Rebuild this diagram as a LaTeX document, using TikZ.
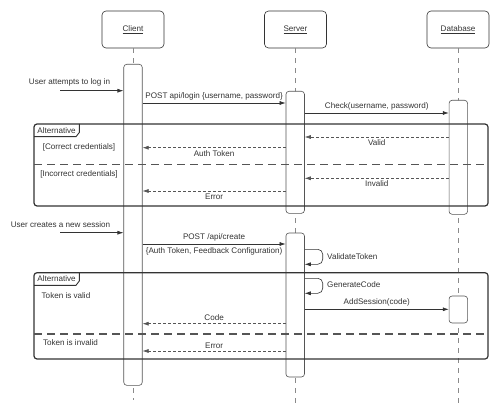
\documentclass[tikz,border=0pt]{standalone}
\usepackage{fontspec}
\setmainfont{Liberation Sans}
\usetikzlibrary{arrows.meta}

\definecolor{inkgray}{HTML}{333333}
\definecolor{linegray}{HTML}{555555}
\definecolor{lifegray}{HTML}{8A8A8A}

\tikzset{
  participant/.style={draw=inkgray, line width=0.6pt, rounded corners=4pt, fill=white,
                      minimum width=62pt, minimum height=37pt, inner sep=0pt},
  actbar/.style={draw=linegray, line width=0.6pt, fill=white, rounded corners=3pt,
                 minimum width=18.5pt, anchor=north, inner sep=0pt},
  lifeline/.style={draw=lifegray, line width=0.6pt, dash pattern=on 5pt off 5pt},
  msg/.style={draw=inkgray, line width=0.6pt, -{Latex[length=6pt,width=4pt]}},
  reply/.style={draw=linegray, line width=0.6pt, dash pattern=on 3pt off 2pt,
                -{Latex[length=6pt,width=4pt]}},
  altframe/.style={draw=inkgray, line width=1.2pt, rounded corners=3pt},
  alttag/.style={draw=inkgray, line width=0.9pt},
  altsplit/.style={draw=linegray, line width=1.2pt, dash pattern=on 8pt off 5pt},
  lbl/.style={font=\fontsize{8.1}{9}\selectfont, text=inkgray, inner sep=1pt},
}

\begin{document}
\begin{tikzpicture}[x=1pt,y=-1pt]
\useasboundingbox (0,0) rectangle (498,417);

% First the participants and their lifelines
\node[participant] (client) at (133,29.5) {};
\node[participant] (server) at (295.5,29.5) {};
\node[participant] (database) at (458,29.5) {};
\node[lbl] (clientname) at (client) {\underline{Client}};
\node[lbl] (servername) at (server) {\underline{Server}};
\node[lbl] (databasename) at (database) {\underline{Database}};

\coordinate (clientend) at (133,400);
\coordinate (serverend) at (295.2,403);
\coordinate (databaseend) at (458.3,403);
\draw[lifeline] (client.south) -- (clientend);
\draw[lifeline] (server.south -| serverend) -- (serverend);
\draw[lifeline] (database.south -| databaseend) -- (databaseend);

% Now the activation bars
\node[actbar, minimum height=321pt] (cact) at (133,64) {};
\node[actbar, minimum height=122pt] (sactA) at (295.2,91) {};
\node[actbar, minimum height=144pt] (sactB) at (295.2,232.7) {};
\node[actbar, minimum height=114pt] (dactA) at (458.3,100) {};
\node[actbar, minimum height=27pt] (dactB) at (458.3,295.7) {};

% Now the login exchange
\coordinate (loginstart) at (60,90.7);
\node[lbl] (loginnote) at (69.5,82) {User attempts to log in};
\draw[msg] (loginstart) -- (cact.west |- loginstart);
\draw[msg] (cact.east |- 0,103) -- node[lbl, above=1.5pt] {POST api/login \{username, password\}} (sactA.west |- 0,103);
\draw[msg] (sactA.east |- 0,113) -- node[lbl, above=1.5pt] {Check(username, password)} (dactA.west |- 0,113);

% first alternative frame
\draw[altframe] (34,124) rectangle (488,206);
\draw[alttag] (34,136.7) -- (76,136.7) -- (79.3,132.5) -- (79.3,124);
\node[lbl] (altA) at (56.5,130.2) {Alternative};
\draw[altsplit] (34,164.7) -- (488,164.7);
\node[lbl] (goodcred) at (79,147) {[Correct credentials]};
\node[lbl] (badcred) at (79,174) {[Incorrect credentials]};

\draw[reply] (dactA.west |- 0,137) -- node[lbl, below=1.5pt] {Valid} (sactA.east |- 0,137);
\draw[reply] (sactA.west |- 0,147.7) -- node[lbl, below=1.5pt] {Auth Token} (cact.east |- 0,147.7);
\draw[reply] (dactA.west |- 0,178.3) -- node[lbl, below=1.5pt] {Invalid} (sactA.east |- 0,178.3);
\draw[reply] (sactA.west |- 0,191) -- node[lbl, below=1.5pt] {Error} (cact.east |- 0,191);

% Now the session exchange
\coordinate (sessionstart) at (60,232.7);
\node[lbl] (sessionnote) at (60.5,225) {User creates a new session};
\draw[msg] (sessionstart) -- (cact.west |- sessionstart);
\draw[msg] (cact.east |- 0,244) -- node[lbl, above=1.5pt] {POST /api/create}
  node[lbl, below=2pt] {\{Auth Token, Feedback Configuration)} (sactB.west |- 0,244);
\draw[msg, rounded corners=5pt] (sactB.east |- 0,249.3) -- ++(18,0) |- (sactB.east |- 0,264.3);
\node[lbl, anchor=west] (validate) at (326,256.5) {ValidateToken};

% second alternative frame
\draw[altframe] (34,272.7) rectangle (488,359);
\draw[alttag] (34,285.3) -- (76,285.3) -- (79.3,281) -- (79.3,272.7);
\node[lbl] (altB) at (56.5,278.8) {Alternative};
\draw[altsplit] (34,334) -- (488,334);
\node[lbl] (tokenok) at (66,296) {Token is valid};
\node[lbl] (tokenbad) at (70.5,343) {Token is invalid};

\draw[msg, rounded corners=5pt] (sactB.east |- 0,278.3) -- ++(18,0) |- (sactB.east |- 0,293.3);
\node[lbl, anchor=west] (generate) at (326,284.5) {GenerateCode};
\draw[msg] (sactB.east |- 0,309.3) -- node[lbl, above=1.5pt] {AddSession(code)} (dactB.west |- 0,309.3);
\draw[reply] (sactB.west |- 0,323.7) -- node[lbl, above=1.5pt] {Code} (cact.east |- 0,323.7);
\draw[reply] (sactB.west |- 0,351) -- node[lbl, above=1.5pt] {Error} (cact.east |- 0,351);
\end{tikzpicture}
\end{document}
